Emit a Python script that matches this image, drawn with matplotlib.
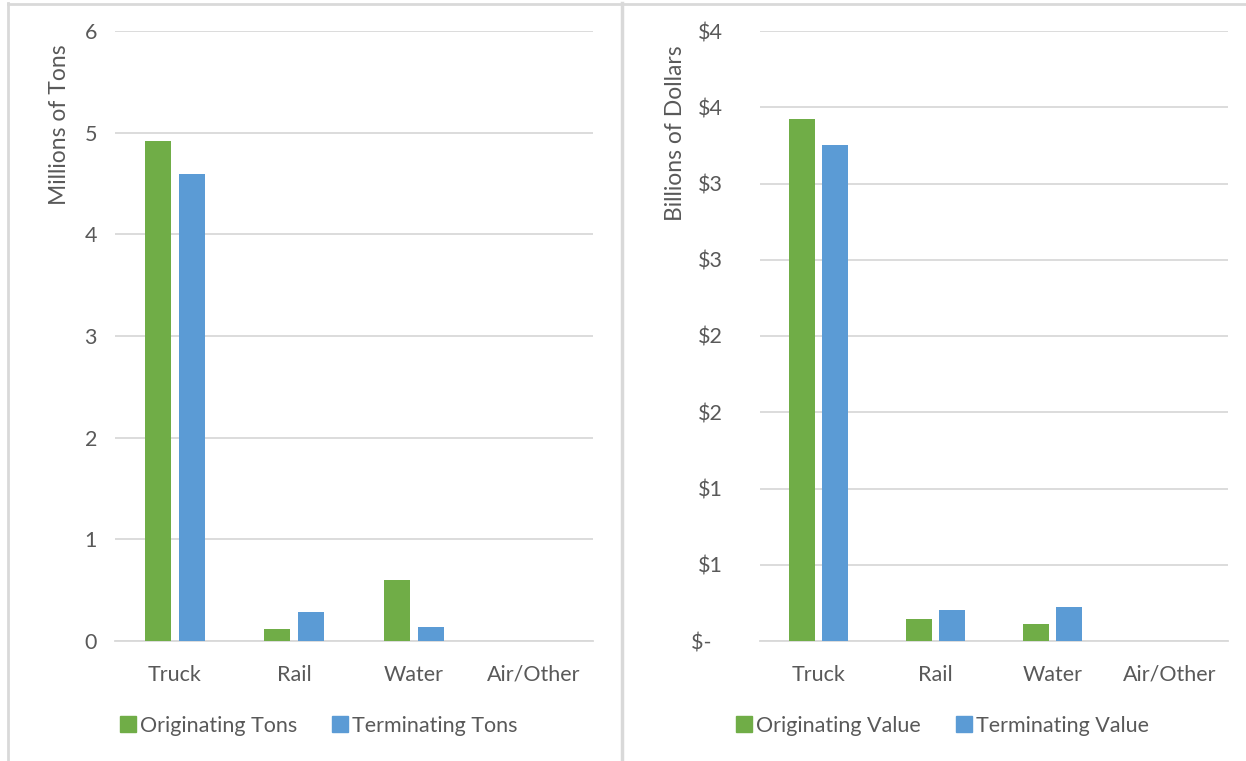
import matplotlib.pyplot as plt
import numpy as np
from matplotlib.lines import Line2D

# data
modes = ["Truck", "Rail", "Water", "Air/Other"]
tons_orig = [4.92, 0.12, 0.60, 0.0]
tons_term = [4.59, 0.29, 0.14, 0.0]
value_orig = [3.42, 0.144, 0.113, 0.0]
value_term = [3.25, 0.203, 0.225, 0.0]
value_ticks = [0, 0.5, 1, 1.5, 2, 2.5, 3, 3.5, 4]
value_tick_labels = ["$-  ", "$1", "$1", "$2", "$2", "$3", "$3", "$4", "$4"]

GREEN = "#70ad47"
BLUE = "#5b9bd5"
TXT = "#595959"
GRID = "#d9d9d9"
W, H = 1246, 761

plt.rcParams['font.family'] = ['Lato', 'DejaVu Sans']

fig = plt.figure(figsize=(W / 100, H / 100), dpi=100)


def px_axes(x0, y0, x1, y1):
    return fig.add_axes([x0 / W, 1 - y1 / H, (x1 - x0) / W, (y1 - y0) / H])


def draw_panel(ax, orig, term, ylab, ylab_x, ylab_y, leg_labels, leg_x):
    x = np.arange(len(modes))
    ax.bar(x - 0.142, orig, width=0.22, color=GREEN, zorder=3)
    ax.bar(x + 0.142, term, width=0.22, color=BLUE, zorder=3)
    ax.set_xlim(-0.5, len(modes) - 0.5)
    ax.set_xticks(x)
    ax.set_xticklabels(modes)
    for s in ["top", "right", "left"]:
        ax.spines[s].set_visible(False)
    ax.spines["bottom"].set_color(GRID)
    ax.spines["bottom"].set_linewidth(1.3)
    ax.grid(axis="y", color=GRID, linewidth=1.3, zorder=0)
    ax.tick_params(length=0, labelsize=15.5, colors=TXT)
    ax.tick_params(axis="x", pad=17)
    fig.text(ylab_x / W, 1 - ylab_y / H, ylab, rotation=90, ha="center", va="center",
             fontsize=16.5, color=TXT)
    handles = [Line2D([], [], marker="s", linestyle="", markersize=12, color=GREEN),
               Line2D([], [], marker="s", linestyle="", markersize=12, color=BLUE)]
    fig.legend(handles, leg_labels, loc="center left", bbox_to_anchor=(leg_x / W, 1 - 726 / H),
               ncol=2, frameon=False, fontsize=15.5, labelcolor=TXT, handletextpad=0.05,
               columnspacing=1.5, handlelength=1.0)


ax1 = px_axes(115, 31, 593, 641)
draw_panel(ax1, tons_orig, tons_term, "Millions of Tons", 60, 125,
           ["Originating Tons", "Terminating Tons"], 98)
ax1.set_ylim(0, 6)
ax1.set_yticks(range(0, 7))
ax1.tick_params(axis="y", pad=13)

ax2 = px_axes(760, 31, 1228, 641)
draw_panel(ax2, value_orig, value_term, "Billions of Dollars", 676, 133,
           ["Originating Value", "Terminating Value"], 714)
ax2.set_ylim(0, 4)
ax2.set_yticks(value_ticks)
ax2.set_yticklabels(value_tick_labels)
ax2.tick_params(axis="y", pad=27)

# frame lines around the panels
fig.add_artist(Line2D([8 / W, 8 / W], [0, 1 - 3 / H], color=GRID, linewidth=2))
fig.add_artist(Line2D([8 / W, 1], [1 - 4 / H, 1 - 4 / H], color=GRID, linewidth=2))
fig.add_artist(Line2D([622 / W, 622 / W], [0, 1 - 3 / H], color=GRID, linewidth=2.5))

fig.savefig("out.png", dpi=100)
